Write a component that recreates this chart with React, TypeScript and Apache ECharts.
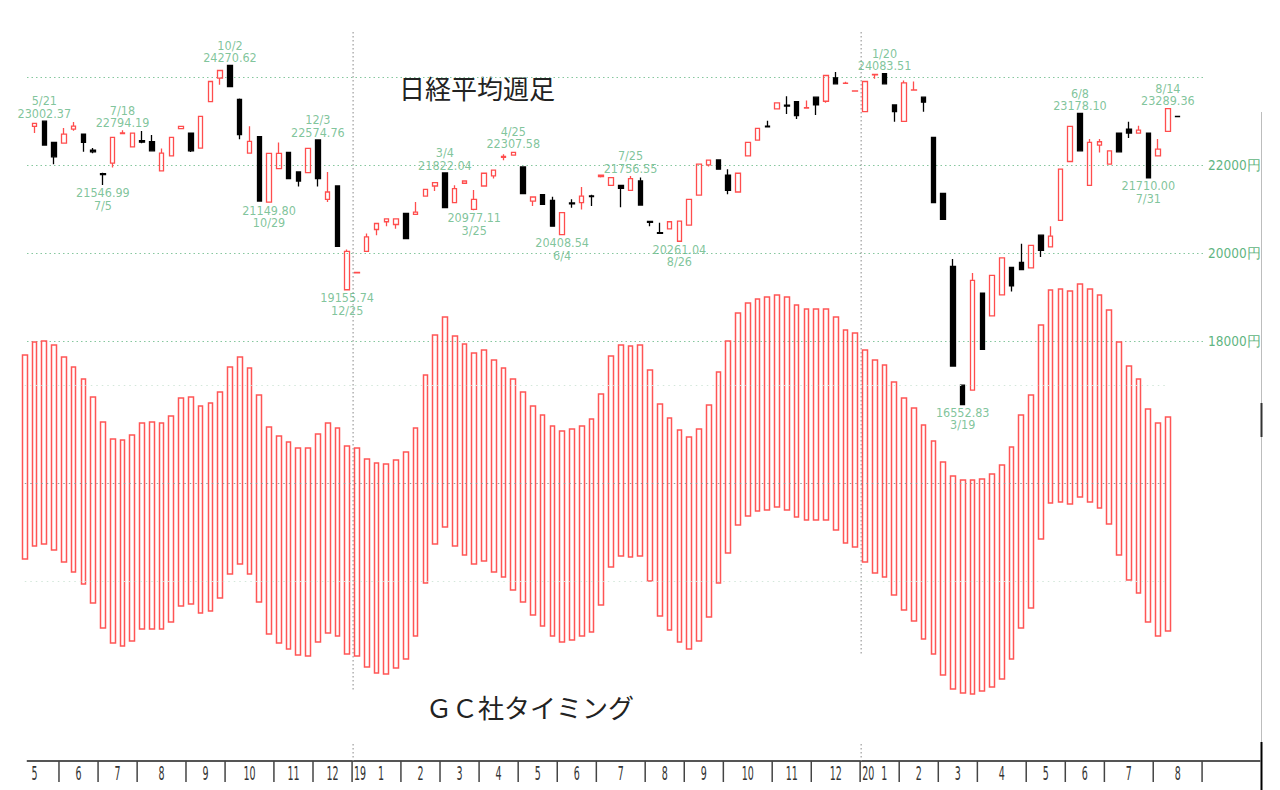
import React, { useEffect, useRef } from "react";
import * as echarts from "echarts";

// ---------- slots (weekly, week of 2018-05-07 = slot 0; 2019 Golden Week skipped) ----------
const SLOT_COUNT = 127;
const slotNames = Array.from({ length: SLOT_COUNT }, (_, i) => String(i));

// ---------- Nikkei weekly candles, slots 1..118 ----------
const CANDLE_FIRST_SLOT = 1;
const weekOpen = [
  22884, 23002, 22519, 22503, 22823, 22708, 22345, 21810, 22046, 22720,
  22418, 22560, 22533, 21870, 22213, 22830, 22731, 22388, 23447, 23982,
  24270, 23500, 22274, 22647, 21161, 21924, 22290, 21847, 21833, 22574,
  21223, 21527, 19166, 19550, 20041, 20537, 20713, 20651, 20903, 20880,
  21298, 21527, 21822.04, 21147, 21589, 20994, 21527, 21755, 22180, 22229,
  21961, 21184, 21330, 21200, 20420, 21140, 21147, 21300, 21742, 21543,
  21543, 21429, 21641, 20720, 20465, 20553, 20270, 20636, 21321, 22007,
  22121, 21771, 21390, 22213, 22571, 22890, 23280, 23365, 23447, 23300,
  23547, 23455, 23989, 23860, 23685, 23218, 24055, 24083.51, 23371, 22998,
  23707, 23547, 22633, 21360, 19698, 16994, 16880, 19090, 18571, 19051,
  19675, 19790, 19662, 20407, 20142, 20743, 22084, 23178.1, 21543, 22457,
  22023, 22731, 22823, 22731, 22731, 22213, 22770, 23113,
];
const weekClose = [
  22953, 22457, 22190, 22708, 22891, 22519, 22304, 21788, 22633, 22735,
  22731, 22525, 22327, 22274, 22633, 22884, 22327, 23113, 23904, 24155,
  23790, 22694, 22540, 21184, 22267, 22267, 21696, 21641, 22381, 21696,
  21390, 20155, 20041, 19561, 20370, 20674, 20781, 20781, 20331, 20933,
  21451, 21604, 21033, 21467, 21641, 21223, 21817, 21886, 22200, 22290,
  21353, 21276, 21109, 20613, 20921, 21120, 21298, 21285, 21771, 21718,
  21474, 21696, 21093, 20700, 20450, 20713, 20727, 21223, 22023, 22114,
  21909, 21429, 21817, 22518, 22838, 22870, 23417, 23345, 23127, 23310,
  23371, 24041, 23851, 23867, 23691, 23904, 24064, 23851, 23218, 23874,
  23714, 23433, 21147, 20766, 17429, 16552.83, 19378, 17810, 19493, 19890,
  19257, 19623, 20178, 20064, 20384, 21909, 22884, 22327, 22518, 22533,
  22327, 22304, 22731, 22800, 21710, 22366, 23289.36, 23105,
];
const weekLow = [
  22731, 22440, 22023, 22500, 22784, 22304, 22270, 21546.99, 21947, 22715,
  22410, 22500, 22310, 21860, 22200, 22820, 22300, 22380, 23440, 23829,
  23780, 22590, 22260, 21180, 21149.8, 21920, 21690, 21513, 21830, 21513,
  21161, 20150, 19155.74, 19545, 20035, 20407, 20613, 20553, 20325, 20870,
  21290, 21413, 21025, 21140, 21580, 20977.11, 21520, 21696, 22114, 22220,
  21345, 21070, 21100, 20605, 20408.54, 21033, 20994, 21070, 21720, 21540,
  21046, 21420, 21087, 20613, 20440, 20550, 20261.04, 20630, 21315, 21970,
  21905, 21337, 21385, 22210, 22568, 22865, 23276, 23166, 23051, 23296,
  23143, 23420, 23847, 23855, 23683, 23214, 23966, 23847, 22990, 22994,
  23704, 23218, 21143, 20762, 17425, 16552.83, 16876, 17806, 18567, 19047,
  19127, 19619, 19658, 19913, 20138, 20739, 22080, 22323, 21539, 22290,
  22019, 22300, 22617, 22727, 21710, 22209, 22766, 23100,
];
const weekHigh = [
  22960, 23002.37, 22525, 22846, 22983, 22712, 22390, 21830, 22640, 22794.19,
  22735, 22780, 22686, 22381, 22640, 22890, 22735, 23120, 23910, 24160,
  24270.62, 23520, 22884, 22650, 22270, 22518, 22295, 21850, 22385, 22574.76,
  21847, 21530, 20080, 19565, 20446, 20678, 20785, 20790, 20905, 21161,
  21455, 21610, 21822.04, 21543, 21645, 21435, 21820, 21890, 22251, 22307.58,
  21965, 21280, 21335, 21284, 20925, 21223, 21504, 21330, 21775, 21722,
  21550, 21756.55, 21718, 20725, 20690, 20718, 20730, 21227, 22027, 22118,
  22125, 21909, 21820, 22522, 22842, 23013, 23420, 23569, 23450, 23470,
  23550, 24045, 24118, 23900, 23694, 23908, 24068, 24083.51, 23375, 23927,
  23904, 23550, 22637, 21364, 19867, 16998, 19546, 19094, 19497, 19894,
  19679, 20210, 20182, 20411, 20613, 21913, 22888, 23178.1, 22594, 22594,
  22331, 22735, 22990, 22898, 22735, 22594, 23289.36, 23116,
];

// ---------- GC timing indicator, slots 0..117 ----------
const timingTop = [
  128, 141, 142, 138, 126, 116, 104, 86, 61, 44,
  43, 48, 60, 61, 60, 67, 85, 86, 77, 80,
  91, 116, 126, 115, 88, 56, 47, 41, 35, 35,
  49, 60, 55, 37, 35, 24, 20, 19, 23, 31,
  55, 108, 148, 166, 147, 139, 130, 133, 123, 115,
  104, 91, 77, 68, 57, 52, 54, 57, 64, 89,
  127, 138, 137, 138, 113, 79, 65, 53, 46, 54,
  78, 111, 142, 170, 180, 184, 186, 188, 186, 178,
  174, 174, 174, 166, 153, 150, 133, 123, 118, 101,
  85, 75, 58, 42, 21, 7, 3, 3, 4, 9,
  18, 36, 68, 88, 158, 193, 194, 192, 199, 194,
  188, 173, 141, 117, 104, 74, 60, 66,
];
const timingBottom = [
  -76, -63, -61, -67, -79, -89, -101, -120, -145, -160,
  -163, -158, -146, -146, -146, -139, -123, -121, -130, -128,
  -115, -91, -81, -91, -119, -151, -160, -166, -172, -173,
  -159, -150, -153, -171, -173, -184, -190, -191, -185, -176,
  -153, -100, -61, -44, -63, -72, -81, -78, -89, -94,
  -107, -119, -132, -143, -153, -159, -157, -153, -149, -122,
  -84, -73, -74, -73, -98, -133, -147, -159, -166, -158,
  -134, -100, -70, -42, -33, -28, -27, -24, -27, -34,
  -37, -37, -37, -47, -60, -64, -79, -90, -94, -112,
  -127, -138, -156, -171, -192, -206, -210, -211, -208, -204,
  -196, -176, -145, -125, -56, -20, -19, -21, -14, -19,
  -25, -41, -72, -97, -110, -139, -153, -148,
];

// ---------- high / low annotations ----------
const annoSlot = [2, 8, 10, 21, 25, 30, 33, 43, 46, 50, 55, 62, 67, 88, 96, 108, 115, 117];
const annoDate = ["5/21", "7/5", "7/18", "10/2", "10/29", "12/3", "12/25", "3/4", "3/25", "4/25", "6/4", "7/25", "8/26", "1/20", "3/19", "6/8", "7/31", "8/14"];
const annoValue = [23002.37, 21546.99, 22794.19, 24270.62, 21149.8, 22574.76, 19155.74, 21822.04, 20977.11, 22307.58, 20408.54, 21756.55, 20261.04, 24083.51, 16552.83, 23178.1, 21710.0, 23289.36];
const annoKind = ["high", "low", "high", "high", "low", "high", "low", "high", "low", "high", "low", "high", "low", "high", "low", "high", "low", "high"];

// ---------- month axis ----------
const MONTH_FIRST_SLOT = -1;
const monthLabels = ["5", "6", "7", "8", "9", "10", "11", "12", "1", "2", "3", "4", "5", "6", "7", "8", "9", "10", "11", "12", "1", "2", "3", "4", "5", "6", "7", "8", ""];
const monthWeeks = [5, 4, 4, 5, 4, 5, 4, 4, 5, 4, 4, 4, 4, 4, 5, 4, 4, 5, 4, 5, 4, 4, 4, 5, 4, 4, 5, 5, 6];
const yearLabelAtMonth: Record<number, string> = { 8: "19", 20: "20" };
const yearLineBottom: Record<number, number> = { 8: 690, 20: 655 };

// price axis labels
const priceTicks = [18000, 20000, 22000];

const GREEN = "#5fb582";
const GRID_GREEN = "#86c79e";
const RED = "#ff4d4d";
const NUM_FONT = "'DejaVu Sans Condensed', 'DejaVu Sans Mono', monospace";

const PRICE_TOP = 33.35;
const PRICE_HEIGHT = 395.55;
const SLOT_LEFT = 19.9;
const SLOT_WIDTH = 1240.8;
const AXIS_Y = 761;

function buildOption() {
  const candleData = weekOpen.map((o, i) => [
    i + CANDLE_FIRST_SLOT,
    o,
    weekClose[i],
    weekLow[i],
    weekHigh[i],
  ]);
  const timingData = timingTop.map((t, i) => [i, timingBottom[i], t, timingBottom[i], t]);

  const annoData = annoSlot.map((k, i) => {
    const v = annoValue[i].toFixed(2);
    const high = annoKind[i] === "high";
    return {
      value: [k, annoValue[i]],
      label: {
        position: high ? "top" : "bottom",
        formatter: high ? `${annoDate[i]}\n${v}` : `${v}\n${annoDate[i]}`,
      },
    };
  });

  const monthStarts: number[] = [];
  let s = MONTH_FIRST_SLOT;
  monthWeeks.forEach((w) => {
    monthStarts.push(s);
    s += w;
  });

  const renderMonth = (params: any, api: any) => {
    const i = params.dataIndex;
    const bw = api.size([1, 0])[0];
    const origin = api.coord([0, AXIS_Y]);
    const x0 = origin[0] - bw / 2 + monthStarts[i] * bw;
    const x1 = x0 + monthWeeks[i] * bw;
    const children: any[] = [];
    if (i === 0) {
      const last = api.coord([SLOT_COUNT - 1, AXIS_Y]);
      children.push({
        type: "line",
        shape: { x1: origin[0] + 2, y1: AXIS_Y, x2: last[0] + bw / 2, y2: AXIS_Y },
        style: { stroke: "#555", lineWidth: 2 },
      });
    } else {
      children.push({
        type: "line",
        shape: { x1: x0, y1: AXIS_Y, x2: x0, y2: AXIS_Y + 21 },
        style: { stroke: "#444", lineWidth: 1.5 },
      });
    }
    const shift = yearLabelAtMonth[i] ? 4.5 : 0;
    if (monthLabels[i]) {
      children.push({
        type: "text",
        x: (x0 + x1) / 2 + shift,
        y: AXIS_Y + 12.5,
        scaleX: 0.5,
        style: {
          text: monthLabels[i],
          fill: "#333",
          fontSize: 19,
          fontFamily: "'DejaVu Sans', sans-serif",
          align: "center",
          verticalAlign: "middle",
        },
      });
    }
    if (yearLabelAtMonth[i]) {
      children.push({
        type: "text",
        x: x0 + 2,
        y: AXIS_Y + 12.5,
        scaleX: 0.5,
        style: {
          text: yearLabelAtMonth[i],
          fill: "#333",
          fontSize: 19,
          fontFamily: "'DejaVu Sans', sans-serif",
          align: "left",
          verticalAlign: "middle",
        },
      });
      children.push({
        type: "line",
        shape: { x1: x0 + 1, y1: 32, x2: x0 + 1, y2: yearLineBottom[i] },
        style: { stroke: "#888", lineWidth: 1, lineDash: [1.5, 2.5] },
      });
      children.push({
        type: "line",
        shape: { x1: x0 + 1, y1: 744, x2: x0 + 1, y2: AXIS_Y },
        style: { stroke: "#888", lineWidth: 1, lineDash: [1.5, 2.5] },
      });
    }
    return { type: "group", children };
  };

  return {
    animation: false,
    backgroundColor: "#ffffff",
    textStyle: { fontFamily: "'Noto Sans CJK JP', 'Noto Sans', sans-serif" },
    grid: [
      { left: SLOT_LEFT, width: SLOT_WIDTH, top: PRICE_TOP, height: PRICE_HEIGHT },
      { left: SLOT_LEFT, width: SLOT_WIDTH, top: 233, height: 500 },
      { left: 27, right: 77, top: PRICE_TOP, height: PRICE_HEIGHT },
      { left: SLOT_LEFT, width: SLOT_WIDTH, top: 0, height: 790 },
    ],
    xAxis: [
      { gridIndex: 0, type: "category", data: slotNames, show: false, boundaryGap: true },
      { gridIndex: 1, type: "category", data: slotNames, show: false, boundaryGap: true },
      { gridIndex: 2, type: "value", min: 0, max: 1, show: false },
      { gridIndex: 3, type: "category", data: slotNames, show: false, boundaryGap: true },
    ],
    yAxis: [
      { gridIndex: 0, type: "value", min: 16000, max: 25000, show: false, splitLine: { show: false } },
      { gridIndex: 1, type: "value", min: -250, max: 250, show: false, splitLine: { show: false } },
      {
        gridIndex: 2,
        type: "value",
        min: 16000,
        max: 25000,
        interval: 2000,
        position: "right",
        axisLine: { show: false },
        axisTick: { show: false },
        axisLabel: {
          margin: 5,
          color: GREEN,
          fontSize: 13.5,
          fontFamily: NUM_FONT,
          formatter: (v: number) => (priceTicks.includes(v) ? `${v}円` : ""),
        },
        splitLine: {
          show: true,
          showMinLine: false,
          showMaxLine: false,
          lineStyle: { color: GRID_GREEN, width: 1, type: [1.5, 3] },
        },
      },
      { gridIndex: 3, type: "value", min: 0, max: 790, inverse: true, show: false, splitLine: { show: false } },
    ],
    graphic: [
      {
        type: "text",
        x: 399,
        y: 87,
        style: {
          text: "日経平均週足",
          fill: "#222",
          fontSize: 26,
          fontFamily: "'Noto Sans CJK JP', sans-serif",
          verticalAlign: "middle",
        },
      },
      {
        type: "text",
        x: 426,
        y: 706,
        style: {
          text: "ＧＣ社タイミング",
          fill: "#222",
          fontSize: 26,
          fontFamily: "'Noto Sans CJK JP', sans-serif",
          verticalAlign: "middle",
        },
      },
      { type: "line", shape: { x1: 1261.5, y1: 112, x2: 1261.5, y2: 744 }, style: { stroke: "#bdbdbd", lineWidth: 1 } },
      { type: "line", shape: { x1: 1261.5, y1: 403, x2: 1261.5, y2: 437 }, style: { stroke: "#333", lineWidth: 2 } },
      { type: "line", shape: { x1: 1261.5, y1: 742, x2: 1261.5, y2: 790 }, style: { stroke: "#000", lineWidth: 2 } },
    ],
    series: [
      {
        name: "GCタイミング",
        type: "candlestick",
        xAxisIndex: 1,
        yAxisIndex: 1,
        barWidth: 5.2,
        encode: { x: 0, y: [1, 2, 3, 4] },
        data: timingData,
        itemStyle: {
          color: "rgba(255,255,255,0)",
          borderColor: "#ff5555",
          color0: "rgba(255,255,255,0)",
          borderColor0: "#ff5555",
          borderWidth: 1.5,
        },
        markLine: {
          silent: true,
          symbol: "none",
          label: { show: false },
          data: [
            [
              { coord: [0, 0], lineStyle: { color: "#9a9a9a", width: 1, type: [1.5, 4] } },
              { coord: [117, 0] },
            ],
            [
              { coord: [0, 98], lineStyle: { color: "#d3e7da", width: 1, type: [1.5, 4] } },
              { coord: [117, 98] },
            ],
            [
              { coord: [0, -98], lineStyle: { color: "#d3e7da", width: 1, type: [1.5, 4] } },
              { coord: [117, -98] },
            ],
          ],
        },
      },
      {
        name: "日経平均週足",
        type: "candlestick",
        xAxisIndex: 0,
        yAxisIndex: 0,
        barWidth: 5,
        encode: { x: 0, y: [1, 2, 3, 4] },
        data: candleData,
        itemStyle: {
          color: "rgba(255,255,255,0)",
          borderColor: RED,
          color0: "#000000",
          borderColor0: "#000000",
          borderWidth: 1.3,
        },
      },
      {
        name: "高値安値",
        type: "scatter",
        xAxisIndex: 0,
        yAxisIndex: 0,
        symbolSize: 1,
        itemStyle: { color: "rgba(0,0,0,0)" },
        data: annoData,
        label: {
          show: true,
          distance: 1,
          color: GREEN,
          fontSize: 12.5,
          lineHeight: 12.5,
          fontFamily: NUM_FONT,
          align: "center",
        },
      },
      {
        name: "月",
        type: "custom",
        xAxisIndex: 3,
        yAxisIndex: 3,
        clip: false,
        silent: true,
        renderItem: renderMonth,
        data: monthStarts.map((v) => [v]),
      },
    ],
  };
}

export default function App() {
  const ref = useRef<HTMLDivElement>(null);
  useEffect(() => {
    if (!ref.current) return;
    const chart = echarts.init(ref.current, undefined, { renderer: "svg" });
    chart.setOption(buildOption() as any);
    return () => chart.dispose();
  }, []);
  return (
    <div
      ref={ref}
      style={{ position: "fixed", left: 0, top: 0, width: 1280, height: 790, background: "#fff" }}
    />
  );
}
